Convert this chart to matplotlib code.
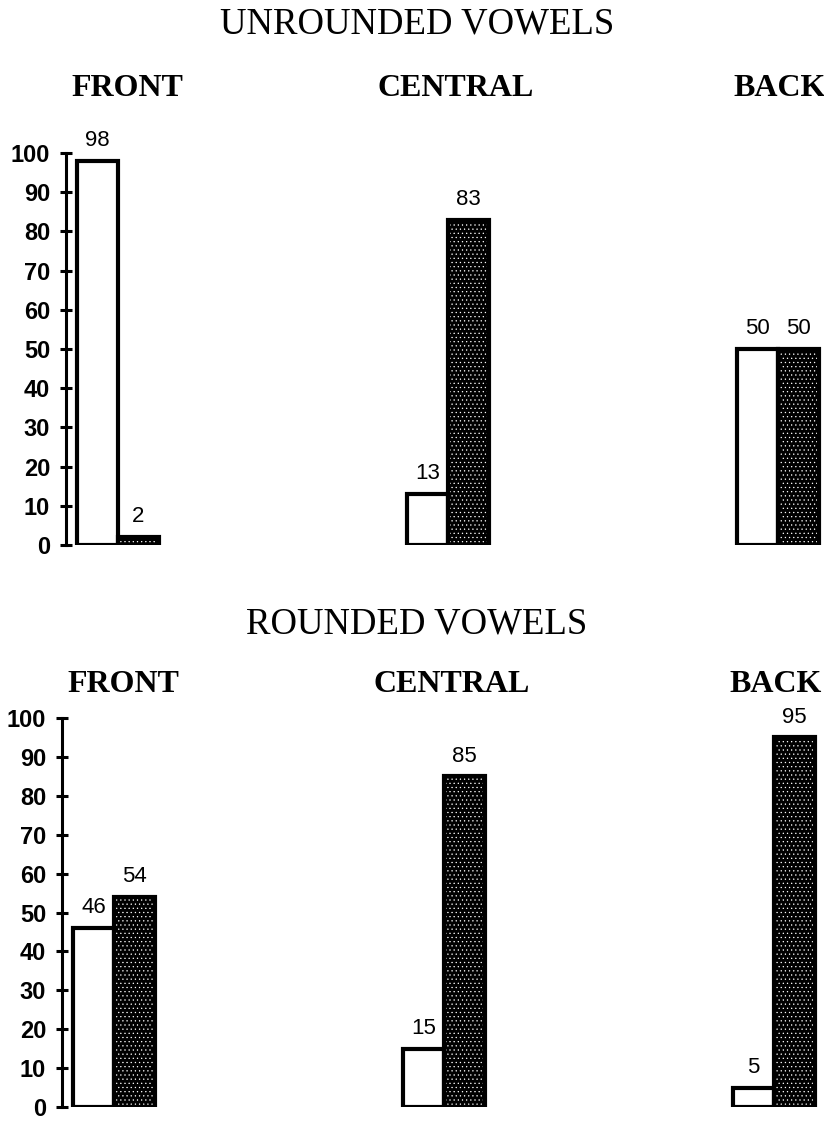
import matplotlib
matplotlib.use("Agg")
import matplotlib.pyplot as plt

# ---- data ----
groups = ["FRONT", "CENTRAL", "BACK"]
panel_titles = ["UNROUNDED VOWELS", "ROUNDED VOWELS"]
unrounded_white = [98, 13, 50]
unrounded_dark = [2, 83, 50]
rounded_white = [46, 15, 5]
rounded_dark = [54, 85, 95]
yticks = [0, 10, 20, 30, 40, 50, 60, 70, 80, 90, 100]

plt.rcParams["hatch.linewidth"] = 0.4

W, H = 824, 1124
fig = plt.figure(figsize=(W / 100, H / 100), dpi=100)

PX = 330.0          # pixels per group unit
BW = 41 / PX        # bar width in data units
cat_dx = [9, 8, 2]  # category label offsets from group centre (px)

def panel(white, dark, y0_px, y100_px, gx0_px, axis_px, title, title_y, cat_y):
    bottom = (H - y0_px) / H
    height = (y0_px - y100_px) / H
    ax = fig.add_axes([0, bottom, 1, height])
    ax.set_xlim(-gx0_px / PX, (W - gx0_px) / PX)
    ax.set_ylim(0, 100)
    ax.patch.set_alpha(0)
    xs = list(range(len(groups)))
    # white bars
    ax.bar([x - BW for x in xs], white, width=BW, align="edge",
           facecolor="white", edgecolor="black", linewidth=3.0, zorder=3)
    # dark stippled bars
    ax.bar(xs, dark, width=BW, align="edge", facecolor="black",
           edgecolor="white", hatch="....", linewidth=0, zorder=3)
    ax.bar(xs, dark, width=BW, align="edge", fill=False,
           edgecolor="black", linewidth=3.0, zorder=4)
    for x, v in zip(xs, white):
        ax.annotate(str(v), (x - BW / 2, v), xytext=(0, 7), textcoords="offset points",
                    ha="center", va="bottom", fontsize=16, family="Liberation Sans")
    for x, v in zip(xs, dark):
        ax.annotate(str(v), (x + BW / 2, v), xytext=(0, 7), textcoords="offset points",
                    ha="center", va="bottom", fontsize=16, family="Liberation Sans")
    # axis
    for s in ["top", "right", "bottom"]:
        ax.spines[s].set_visible(False)
    ax.spines["left"].set_position(("data", (axis_px - gx0_px) / PX))
    ax.spines["left"].set_linewidth(2.2)
    ax.spines["left"].set_bounds(0, 100)
    ax.set_xticks([])
    ax.set_yticks(yticks)
    ax.tick_params(axis="y", direction="inout", length=9, width=2.2, pad=7,
                   labelsize=17)
    for lab in ax.get_yticklabels():
        lab.set_family("Liberation Sans")
        lab.set_fontweight("bold")
    # titles
    fig.text(417 / W, 1 - title_y / H, title, ha="center", va="center",
             fontsize=26.5, family="Liberation Serif")
    for x, g, dx in zip(xs, groups, cat_dx):
        cx = gx0_px + x * PX + dx
        fig.text(cx / W, 1 - cat_y / H, g, ha="center", va="center",
                 fontsize=23, fontweight="bold", family="Liberation Serif")
    return ax

panel(unrounded_white, unrounded_dark, 545, 153, 118, 66, panel_titles[0], 24, 88)
panel(rounded_white, rounded_dark, 1107, 718, 114, 62, panel_titles[1], 624, 684)

fig.savefig("out.png", dpi=100)
